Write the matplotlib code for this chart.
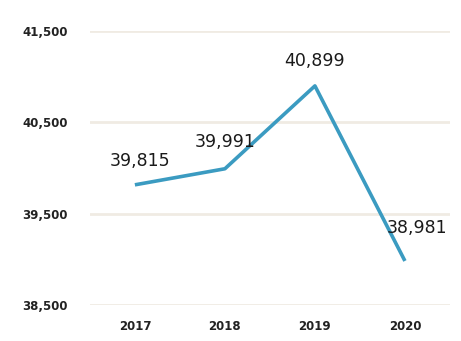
import matplotlib.pyplot as plt

years = ['2017', '2018', '2019', '2020']
values = [39815, 39991, 40899, 38981]
yticks = [38500, 39500, 40500, 41500]
label_offsets = [(4, 17), (0, 19), (0, 18), (9, 24)]


def main():
    fig = plt.figure(figsize=(4.61, 3.41), dpi=100)
    ax = fig.add_axes([0.195, 0.106, 0.781, 0.803])

    x = list(range(len(years)))
    ax.plot(x, values, color='#3b9bc1', linewidth=2.6, solid_capstyle='butt')

    for i, v in enumerate(values):
        dx, dy = label_offsets[i]
        ax.annotate(f'{v:,}', (x[i], v), xytext=(dx, dy), textcoords='offset points',
                    ha='center', va='center', fontsize=12.5, color='#1a1a1a')

    ax.set_xlim(-0.5, 3.5)
    ax.set_ylim(38500, 41500)
    ax.set_yticks(yticks)
    ax.set_yticklabels([f'{t:,}' for t in yticks], fontsize=8.5, fontweight='bold', color='#222222')
    ax.set_xticks(x)
    ax.set_xticklabels(years, fontsize=8.5, fontweight='bold', color='#222222')
    ax.tick_params(axis='x', length=0, pad=11)
    ax.tick_params(axis='y', length=0, pad=16)

    # faint horizontal gridlines
    ax.grid(axis='y', color='#f0ebe3', linewidth=2.0)
    ax.set_axisbelow(True)
    for s in ax.spines.values():
        s.set_visible(False)

    fig.savefig('out.png', dpi=100)


if __name__ == '__main__':
    main()
